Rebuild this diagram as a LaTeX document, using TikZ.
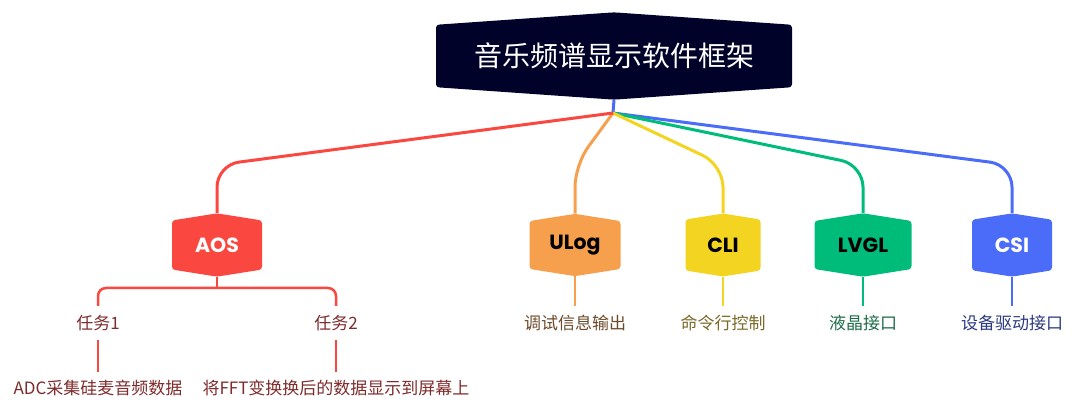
\documentclass[tikz,border=0pt]{standalone}
\usepackage{fontspec}
\setmainfont{Noto Sans CJK SC}
\newfontfamily\popfont{Poppins}
\usetikzlibrary{shapes.symbols}

\definecolor{rootbg}{HTML}{01022A}
\definecolor{aosred}{HTML}{FA4840}
\definecolor{ulogorange}{HTML}{F6A04D}
\definecolor{cliyellow}{HTML}{F2D421}
\definecolor{lvglgreen}{HTML}{00BC7B}
\definecolor{csiblue}{HTML}{4A6CF8}
\definecolor{aostext}{HTML}{7E2B2B}
\definecolor{ulogtext}{HTML}{6E4A2A}
\definecolor{clitext}{HTML}{7A6A28}
\definecolor{lvgltext}{HTML}{1E6B4A}
\definecolor{csitext}{HTML}{2B3A80}

\begin{document}
\begin{tikzpicture}[x=1pt, y=-1pt,
    hexbox/.style={signal, signal to=north and south, signal pointer angle=162,
        rounded corners=3pt, minimum height=56pt, inner sep=0pt,
        font=\popfont\bfseries\fontsize{20.5}{24}\selectfont},
    branch/.style={line width=3pt, rounded corners=22pt},
    twig/.style={line width=2.5pt},
    leaf/.style={inner sep=0pt, minimum height=34pt, font=\fontsize{17}{20}\selectfont}]
    \useasboundingbox (0,0) rectangle (1080,414);

    % Define root
    \node[signal, signal to=north and south, signal pointer angle=172,
          rounded corners=3pt, minimum width=356pt, minimum height=82pt, inner sep=0pt,
          fill=rootbg, text=white, font=\fontsize{28}{32}\selectfont] (root) at (614,56) {音乐频谱显示软件框架};
    \coordinate (fork) at (613,113);
    \coordinate (bend) at (613,165);

    % Define modules
    \node[hexbox, fill=aosred, text=white, minimum width=90pt] (aos) at (217,245) {AOS};
    \node[hexbox, fill=ulogorange, text=black, minimum width=91pt] (ulog) at (575,245) {ULog};
    \node[hexbox, fill=cliyellow, text=black, minimum width=75pt] (cli) at (723,245) {CLI};
    \node[hexbox, fill=lvglgreen, text=black, minimum width=97pt] (lvgl) at (863,245) {LVGL};
    \node[hexbox, fill=csiblue, text=white, minimum width=80pt] (csi) at (1012,245) {CSI};

    % Define leaves
    \node[leaf, text=aostext] (task1) at (98,323) {任务1};
    \node[leaf, text=aostext] (task2) at (336,323) {任务2};
    \node[leaf, text=aostext, minimum height=32pt] (adc) at (98,388) {ADC采集硅麦音频数据};
    \node[leaf, text=aostext, minimum height=32pt] (fft) at (336,388) {将FFT变换换后的数据显示到屏幕上};
    \node[leaf, text=ulogtext] (ulogtxt) at (575,323) {调试信息输出};
    \node[leaf, text=clitext] (clitxt) at (723,323) {命令行控制};
    \node[leaf, text=lvgltext] (lvgltxt) at (863,323) {液晶接口};
    \node[leaf, text=csitext] (csitxt) at (1012,323) {设备驱动接口};
    \coordinate (aosfork) at (217,288);

    % Draw branches
    \draw[branch, csiblue] (root.south) -- (fork);
    \draw[branch, csiblue] (fork) -- (csi.north |- bend) -- (csi.north);
    \draw[branch, lvglgreen] (fork) -- (lvgl.north |- bend) -- (lvgl.north);
    \draw[branch, cliyellow] (fork) -- (cli.north |- bend) -- (cli.north);
    \draw[branch, ulogorange] (fork) -- (ulog.north |- bend) -- (ulog.north);
    \draw[branch, aosred] (fork) -- (aos.north |- bend) -- (aos.north);

    % Draw leaf links
    \draw[twig, aosred] (aos.south) -- (aosfork);
    \draw[twig, aosred, rounded corners=8pt] (aosfork) -| (task1.north);
    \draw[twig, aosred, rounded corners=8pt] (aosfork) -| (task2.north);
    \draw[twig, aosred] (task1.south) -- (adc.north);
    \draw[twig, aosred] (task2.south) -- (fft.north);
    \draw[twig, ulogorange] (ulog.south) -- (ulogtxt.north);
    \draw[twig, cliyellow] (cli.south) -- (clitxt.north);
    \draw[twig, lvglgreen] (lvgl.south) -- (lvgltxt.north);
    \draw[twig, csiblue] (csi.south) -- (csitxt.north);
\end{tikzpicture}
\end{document}
